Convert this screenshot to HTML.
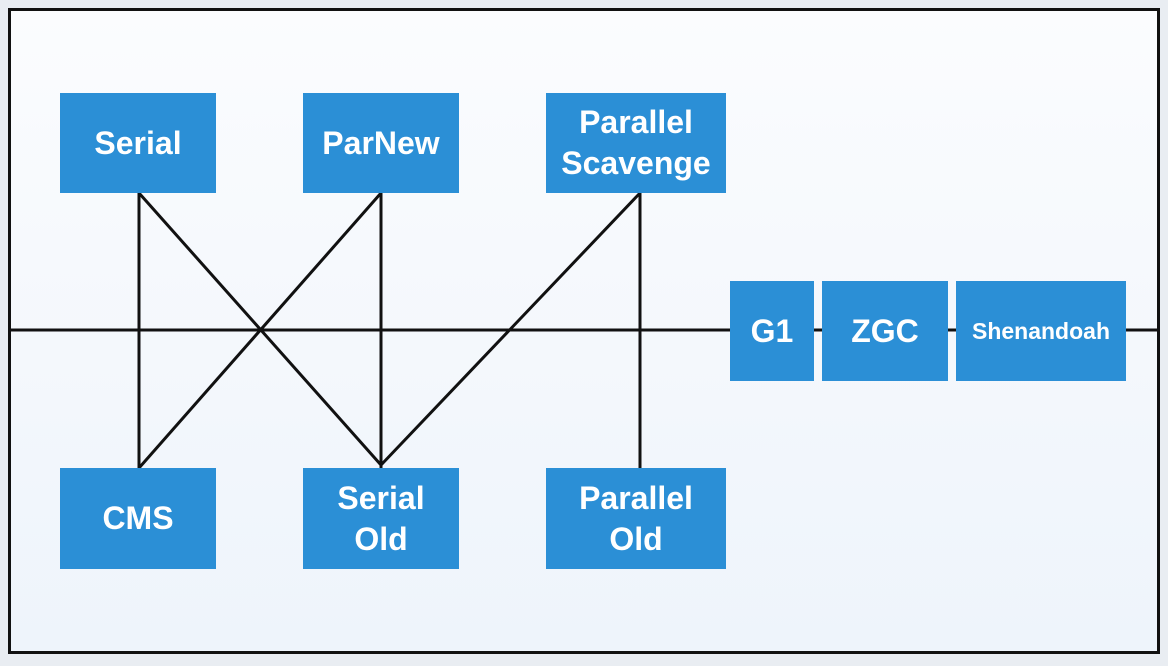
<!DOCTYPE html>
<html><head><meta charset="utf-8"><style>
html,body{margin:0;padding:0;width:1168px;height:666px;overflow:hidden;background:#e9edf2;font-family:"Liberation Sans",sans-serif}
.frame{position:absolute;left:8px;top:8px;width:1146px;height:640px;border:3px solid #111;background:linear-gradient(180deg,#fbfcfe,#eef4fb)}
.b{position:absolute;background:#2b8fd6;color:#fff;display:flex;align-items:center;justify-content:center;text-align:center;font-size:32px;font-weight:bold;line-height:41px}
svg{position:absolute;left:0;top:0}
</style></head><body>
<div class="frame"></div>
<svg width="1168" height="666">
<g stroke="#111" stroke-width="3" fill="none">
<line x1="10" y1="330" x2="1158" y2="330"/>
<line x1="139" y1="193" x2="139" y2="468"/>
<line x1="139" y1="193" x2="381" y2="465"/>
<line x1="381" y1="193" x2="139" y2="468"/>
<line x1="381" y1="193" x2="381" y2="468"/>
<line x1="640" y1="193" x2="381" y2="465"/>
<line x1="640" y1="193" x2="640" y2="468"/>
</g></svg>
<div class="b" style="left:60px;top:93px;width:156px;height:100px">Serial</div>
<div class="b" style="left:303px;top:93px;width:156px;height:100px">ParNew</div>
<div class="b" style="left:546px;top:93px;width:180px;height:100px">Parallel<br>Scavenge</div>
<div class="b" style="left:60px;top:468px;width:156px;height:101px">CMS</div>
<div class="b" style="left:303px;top:468px;width:156px;height:101px">Serial<br>Old</div>
<div class="b" style="left:546px;top:468px;width:180px;height:101px">Parallel<br>Old</div>
<div class="b" style="left:730px;top:281px;width:84px;height:100px">G1</div>
<div class="b" style="left:822px;top:281px;width:126px;height:100px">ZGC</div>
<div class="b" style="left:956px;top:281px;width:170px;height:100px;font-size:23px">Shenandoah</div>
</body></html>
